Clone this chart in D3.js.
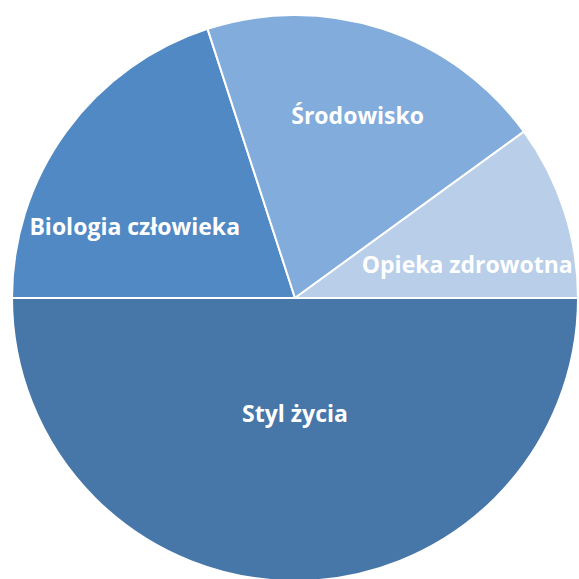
<!DOCTYPE html>
<html>
<head>
<meta charset="utf-8">
<script src="https://cdn.jsdelivr.net/npm/d3@7"></script>
<style>
  html, body { margin: 0; padding: 0; background: #ffffff; }
  svg { display: block; }
</style>
</head>
<body>
<svg id="chart" width="579" height="579"></svg>
<script>
// Data
const categories = ["Styl życia", "Biologia człowieka", "Środowisko", "Opieka zdrowotna"];
const values = [50, 20, 20, 10];

// Styling
const colors = ["#4677A8", "#5189C4", "#82ACDB", "#B8CEE9"];
// label placement: [angle nudge in degrees, radius fraction]
const labelPlacement = [[0, 0.41], [-12, 0.62], [1, 0.68], [7, 0.62]];

const width = 579, height = 579;
const cx = 295, cy = 298, R = 283;

const svg = d3.select("#chart");
const g = svg.append("g").attr("transform", `translate(${cx},${cy})`);

const pie = d3.pie()
  .sort(null)
  .value(d => d.value)
  .startAngle(Math.PI / 2)
  .endAngle(Math.PI / 2 + 2 * Math.PI);

const data = categories.map((c, i) => ({ name: c, value: values[i], i }));
const arcs = pie(data);
const arc = d3.arc().innerRadius(0).outerRadius(R);

g.selectAll("path.slice")
  .data(arcs)
  .join("path")
  .attr("class", "slice")
  .attr("d", arc)
  .attr("fill", d => colors[d.data.i])
  .attr("stroke", "#ffffff")
  .attr("stroke-width", 2)
  .attr("stroke-linejoin", "round");

g.selectAll("text.label")
  .data(arcs)
  .join("text")
  .attr("class", "label")
  .attr("transform", d => {
    const [dA, rf] = labelPlacement[d.data.i];
    const a = (d.startAngle + d.endAngle) / 2 + dA * Math.PI / 180;
    const r = rf * R;
    return `translate(${r * Math.sin(a)},${-r * Math.cos(a)})`;
  })
  .attr("text-anchor", "middle")
  .attr("dy", "0.36em")
  .attr("fill", "#ffffff")
  .style("font-family", "'Open Sans', Lato, sans-serif")
  .style("font-weight", "700")
  .style("font-size", "23px")
  .text(d => d.data.name);
</script>
</body>
</html>
